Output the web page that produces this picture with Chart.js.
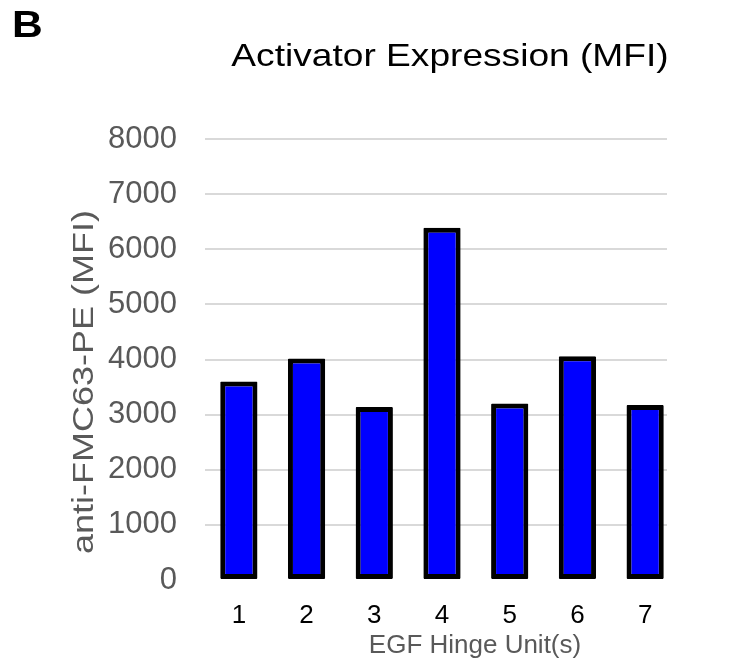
<!DOCTYPE html>
<html>
<head>
<meta charset="utf-8">
<script src="https://cdn.jsdelivr.net/npm/chart.js@4"></script>
<style>
  html, body { margin: 0; padding: 0; background: #fff; }
  #wrap { position: relative; width: 743px; height: 666px; }
</style>
</head>
<body>
<div id="wrap"><canvas id="mfiChart" width="743" height="666"></canvas></div>
<script>
const hingeUnits = ['1', '2', '3', '4', '5', '6', '7'];
const mfiValues = [3600, 4020, 3140, 6390, 3200, 4060, 3175];
const yTicks = [0, 1000, 2000, 3000, 4000, 5000, 6000, 7000, 8000];

const chartTitle = 'Activator Expression (MFI)';
const panelLetter = 'B';
const yTitle = 'anti-FMC63-PE (MFI)';
const xTitle = 'EGF Hinge Unit(s)';

const FONT = '"Liberation Sans", Arial, sans-serif';

// stretched text like in the original figure
function wideText(c, text, x, y, stretch) {
  c.save();
  c.translate(x, y);
  c.scale(stretch, 1);
  c.fillText(text, 0, 0);
  c.restore();
}

// gridlines of the original stop a bit before the last category ends
const gridTrim = {
  id: 'gridTrim',
  beforeDatasetsDraw(chart) {
    const a = chart.chartArea;
    chart.ctx.save();
    chart.ctx.fillStyle = '#fff';
    chart.ctx.fillRect(a.right - 12, a.top - 3, 14, a.bottom - a.top + 6);
    chart.ctx.restore();
  }
};

const extraText = {
  id: 'extraText',
  afterDraw(chart) {
    const c = chart.ctx;
    c.save();
    c.fillStyle = '#000';
    c.textBaseline = 'alphabetic';
    c.textAlign = 'left';
    c.font = 'bold 37px ' + FONT;
    wideText(c, panelLetter, 12, 37, 1.15);

    c.textAlign = 'center';
    c.font = '32px ' + FONT;
    wideText(c, chartTitle, 450, 66, 1.16);

    c.fillStyle = '#595959';
    c.font = '26px ' + FONT;
    wideText(c, xTitle, 475, 653, 1.0);

    c.font = '30px ' + FONT;
    c.textBaseline = 'middle';
    c.translate(85, 382);
    c.rotate(-Math.PI / 2);
    wideText(c, yTitle, 0, 0, 1.2);
    c.restore();
  }
};

const ctx = document.getElementById('mfiChart').getContext('2d');

const mfiChart = new Chart(ctx, {
  type: 'bar',
  data: {
    labels: hingeUnits,
    datasets: [{
      label: 'MFI',
      data: mfiValues,
      backgroundColor: '#0000ff',
      borderColor: '#000000',
      borderWidth: 5,
      borderSkipped: false,
      borderRadius: 1,
      barPercentage: 0.55,
      categoryPercentage: 1.0
    }]
  },
  options: {
    responsive: false,
    animation: false,
    layout: {
      padding: { top: 139, right: 64, bottom: 0, left: 0 }
    },
    scales: {
      x: {
        grid: { display: false },
        border: { display: false },
        ticks: {
          color: '#000',
          padding: 12,
          font: { family: FONT, size: 26 }
        },
        afterFit(scale) { scale.height = 86; }
      },
      y: {
        min: 0,
        max: 8000,
        afterBuildTicks(scale) { scale.ticks = yTicks.map(v => ({ value: v })); },
        grid: {
          drawTicks: false,
          lineWidth: 2,
          color: c => c.tick && c.tick.value === 0 ? 'rgba(0,0,0,0)' : '#d9d9d9'
        },
        border: { display: false },
        ticks: {
          color: '#595959',
          padding: 28,
          callback: v => String(v),
          font: { family: FONT, size: 31 }
        },
        afterFit(scale) { scale.width = 205; }
      }
    },
    plugins: {
      legend: { display: false },
      tooltip: { enabled: false }
    }
  },
  plugins: [gridTrim, extraText]
});
</script>
</body>
</html>
